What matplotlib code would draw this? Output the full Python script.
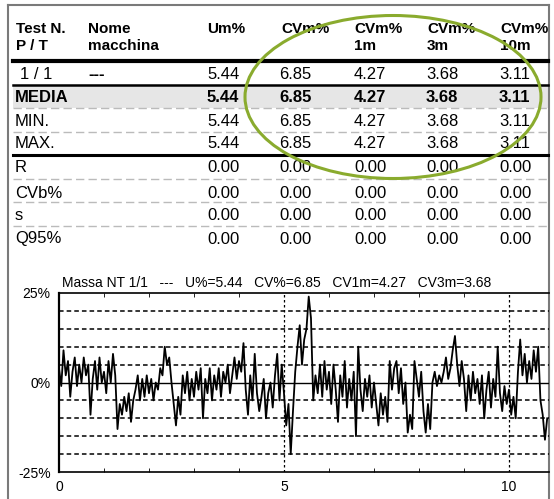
import numpy as np
import matplotlib as mpl
mpl.use("Agg")
import matplotlib.pyplot as plt
from matplotlib.patches import Ellipse, Rectangle

# ---------------- data ----------------
col_head1 = ["Um%", "CVm%", "CVm%", "CVm%", "CVm%"]
col_head2 = ["", "", "1m", "3m", "10m"]
row_labels = ["1 / 1", "MEDIA", "MIN.", "MAX.", "R", "CVb%", "s", "Q95%"]
row_names = ["---", "", "", "", "", "", "", ""]
row_values = [
    ["5.44", "6.85", "4.27", "3.68", "3.11"],
    ["5.44", "6.85", "4.27", "3.68", "3.11"],
    ["5.44", "6.85", "4.27", "3.68", "3.11"],
    ["5.44", "6.85", "4.27", "3.68", "3.11"],
    ["0.00", "0.00", "0.00", "0.00", "0.00"],
    ["0.00", "0.00", "0.00", "0.00", "0.00"],
    ["0.00", "0.00", "0.00", "0.00", "0.00"],
    ["0.00", "0.00", "0.00", "0.00", "0.00"],
]
chart_title = "Massa NT 1/1   ---   U%=5.44   CV%=6.85   CV1m=4.27   CV3m=3.68"

# mass signal (%), one value every 0.05 units
x_step = 0.05
signal = [
    4, -1, 9, 2, 6, -4, 3, 7, -1, 5,
    0, 7, 2, 5, -9, 1, 6, -2, 7, 0,
    3, -3, 6, 0, 8, 2, -13, -6, -9, -4,
    -8, -3, -11, -5, -2, 2, -5, 1, -4, 2,
    -3, 1, -5, 0, -2, 4, 2, 10, 5, 7,
    0, -6, -12, -4, -9, 2, -3, 3, -5, 1,
    -4, 3, -2, 4, -10, 1, -3, 4, -5, 2,
    -2, 4, -4, 3, 0, 5, -3, 2, 7, 1,
    6, 3, 11, -2, -9, 2, -5, 8, -3, -8,
    -4, 1, -10, -3, 0, -7, 2, 8, -5, 5,
    -3, -12, -6, -20, -8, 3, 10, 16, 5, 12,
    15, 24, 18, -5, 2, -3, 5, -4, 6, -2,
    3, -6, 5, -2, -11, 2, -4, 6, -7, 1,
    -5, 3, -15, 10, -2, -8, 1, -4, 2, -7,
    0, -6, -12, -3, -9, -4, -11, 6, -2, 4,
    6, -3, 4, -6, 0, -14, -9, -13, 6, 1,
    -4, 3, -8, -14, -6, -13, 0, 3, -1, 2,
    0, 3, 7, 1, 4, 9, 13, 5, -1, 6,
    1, -8, 2, -5, 3, -3, 1, -6, 2, -10,
    -2, 3, -7, 1, -4, 10, -3, -8, -1, -6,
    -2, -9, -4, -10, 3, 12, 2, 8, 0, 6,
    1, 9, 3, 10, -5, -9, -16, -10,
]

# ---------------- figure ----------------
W, H = 554, 499
fig = plt.figure(figsize=(W / 100, H / 100), dpi=100)
tab = fig.add_axes([0, 0, 1, 1])
tab.set_xlim(0, W)
tab.set_ylim(H, 0)
tab.axis("off")

sans = ["Liberation Sans", "DejaVu Sans"]

# outer frame
gray = "#7a7a7a"
tab.plot([8, 549], [5, 5], color=gray, lw=1.5)
tab.plot([8, 8], [5, 499], color=gray, lw=1.5)
tab.plot([549, 549], [5, 499], color=gray, lw=1.5)

# header
hfs = 11
hx = [207, 281, 354, 427, 500]
tab.text(16, 29, "Test N.", fontsize=hfs, fontweight="bold", family=sans, va="center")
tab.text(16, 46, "P / T", fontsize=hfs, fontweight="bold", family=sans, va="center")
tab.text(88, 29, "Nome", fontsize=hfs, fontweight="bold", family=sans, va="center")
tab.text(88, 46, "macchina", fontsize=hfs, fontweight="bold", family=sans, va="center")
for x, h1, h2 in zip(hx, col_head1, col_head2):
    tab.text(x, 29, h1, fontsize=hfs, fontweight="bold", family=sans, va="center")
    if h2:
        tab.text(x, 46, h2, fontsize=hfs, fontweight="bold", family=sans, va="center")

# rows
row_y = [74, 97.5, 121, 144, 168, 193, 216, 239]
vx = [207, 279, 354, 426, 499]
tab.add_patch(Rectangle((13, 86), 535, 22, color="#e6e6e6", lw=0, zorder=0))
for i, (lab, nm, vals) in enumerate(zip(row_labels, row_names, row_values)):
    bold = "bold" if lab == "MEDIA" else "normal"
    lx = 20 if i == 0 else 15
    tab.text(lx, row_y[i], lab, fontsize=12, fontweight=bold, family=sans, va="center")
    if nm:
        tab.text(88, row_y[i], nm, fontsize=12, fontweight="bold", family=sans, va="center")
    for x, v in zip(vx, vals):
        tab.text(x, row_y[i], v, fontsize=12, fontweight=bold, family=sans, va="center")

# table rules
tab.plot([13, 548], [61, 61], color="black", lw=3)
tab.plot([13, 548], [85, 85], color="black", lw=1.8)
tab.plot([13, 548], [155, 155], color="black", lw=2.2)
for y in [108, 132, 179, 202, 226]:
    tab.plot([13, 548], [y, y], color="#bbbbbb", lw=1, ls=(0, (6, 3)))

# green highlight ellipse
tab.add_patch(Ellipse((393, 97), 296, 163, fill=False, edgecolor="#8aab2e", lw=2.2, zorder=5))

# ---------------- chart ----------------
left, right, top, bottom = 59, 549, 293, 472
ax = fig.add_axes([left / W, (H - bottom) / H, (right - left) / W, (bottom - top) / H])
ax.set_facecolor("none")
xs = np.arange(len(signal)) * x_step
ax.plot(xs, signal, color="black", lw=1.3, zorder=3)

ax.set_xlim(0, 10.89)
ax.set_ylim(-25, 25)
for g in [-20, -15, -10, -5, 5, 10, 15, 20]:
    ax.axhline(g, color="black", lw=1.1, ls=(0, (3, 2)), zorder=1)
ax.axhline(0, color="black", lw=1.0, zorder=1)
for v in [5, 10]:
    ax.axvline(v, color="black", lw=0.9, ls=(0, (2, 2)), zorder=1)

ax.set_yticks([-25, 0, 25])
ax.set_yticklabels(["-25%", "0%", "25%"], fontsize=10, family=sans)
ax.set_xticks([0, 5, 10])
ax.set_xticklabels(["0", "5", "10"], fontsize=10, family=sans)
ax.set_xticks(np.arange(1, 11), minor=True)
ax.tick_params(axis="both", which="major", length=0, pad=6)
ax.tick_params(axis="x", which="minor", direction="in", length=3, top=True, bottom=True)
ax.spines["right"].set_visible(False)
ax.spines["left"].set_linewidth(1.6)
ax.spines["top"].set_linewidth(1.2)
ax.spines["bottom"].set_linewidth(1.2)

tab.text(62, 283, chart_title, fontsize=10, family=sans, va="center")

plt.savefig("out.png", dpi=100)
